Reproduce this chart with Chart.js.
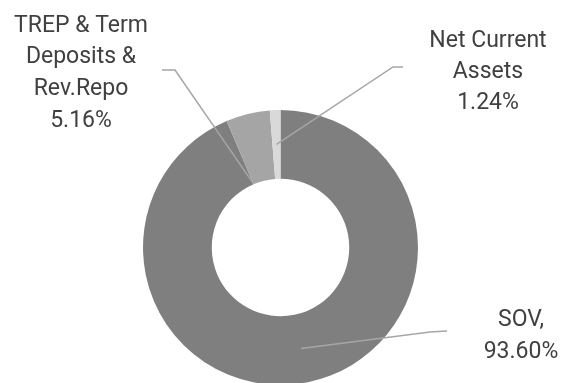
<!DOCTYPE html>
<html>
<head>
<meta charset="utf-8">
<script src="https://cdn.jsdelivr.net/npm/chart.js@4.4.1/dist/chart.umd.min.js"></script>
<style>
  html, body { margin: 0; padding: 0; overflow: hidden; background: #fff; }
  #wrap { width: 563px; height: 386px; }
</style>
</head>
<body>
<div id="wrap"><canvas id="allocChart" width="563" height="386"></canvas></div>
<script>
// Data
const categories = ['SOV', 'TREP & Term Deposits & Rev.Repo', 'Net Current Assets'];
const shares = [93.60, 5.16, 1.24];
const labelLines = [['SOV,'], ['TREP & Term', 'Deposits &', 'Rev.Repo'], ['Net Current', 'Assets']];
const sliceColors = ['#7f7f7f', '#a5a5a5', '#d9d9d9'];

// Where each callout label sits and how its leader line bends (layout only)
const callouts = [
  { x: 521, y: 325.5, lineGap: 32, path: [[447, 331], [430, 332]], angle: 'mid', radius: 'mid' },
  { x: 81, y: 31.7, lineGap: 31.7, path: [[162, 70], [175, 70]], angle: 'start', radius: 'inner' },
  { x: 488, y: 46.7, lineGap: 31, path: [[403, 67], [393, 67]], angle: 'mid', radius: 'mid' }
];

/**********************************************************/
/*   Plugin: data labels with leader lines (Excel style)  */
/**********************************************************/
const calloutPlugin = {
  id: 'callouts',
  afterDatasetsDraw(chart) {
    const ctx = chart.ctx;
    const meta = chart.getDatasetMeta(0);
    meta.data.forEach((arc, i) => {
      const c = callouts[i];
      const p = arc.getProps(['x', 'y', 'startAngle', 'endAngle', 'innerRadius', 'outerRadius'], true);
      const a = c.angle === 'start' ? p.startAngle : (p.startAngle + p.endAngle) / 2;
      const r = c.radius === 'inner' ? p.innerRadius + 1 : (p.innerRadius + p.outerRadius) / 2;
      const ax = p.x + Math.cos(a) * r;
      const ay = p.y + Math.sin(a) * r;

      // Leader line
      ctx.save();
      ctx.strokeStyle = '#a6a6a6';
      ctx.lineWidth = 1.5;
      ctx.beginPath();
      ctx.moveTo(c.path[0][0], c.path[0][1]);
      for (let k = 1; k < c.path.length; k++) ctx.lineTo(c.path[k][0], c.path[k][1]);
      ctx.lineTo(ax, ay);
      ctx.stroke();

      // Label text: category lines + value
      const lines = labelLines[i].concat([shares[i].toFixed(2) + '%']);
      ctx.fillStyle = '#404040';
      ctx.font = '23px Roboto';
      ctx.textAlign = 'center';
      ctx.textBaseline = 'alphabetic';
      lines.forEach((t, k) => ctx.fillText(t, c.x, c.y + k * c.lineGap));
      ctx.restore();
    });
  }
};

// Draw chart
var chart = new Chart(document.getElementById('allocChart'), {
  type: 'doughnut',
  data: {
    labels: categories,
    datasets: [{
      data: shares,
      backgroundColor: sliceColors,
      borderWidth: 0
    }]
  },
  options: {
    responsive: false,
    animation: false,
    cutout: '50%',
    layout: { padding: { top: 110, bottom: 1, left: 142, right: 144 } },
    plugins: {
      legend: { display: false },
      tooltip: { enabled: false }
    }
  },
  plugins: [calloutPlugin]
});
</script>
</body>
</html>
